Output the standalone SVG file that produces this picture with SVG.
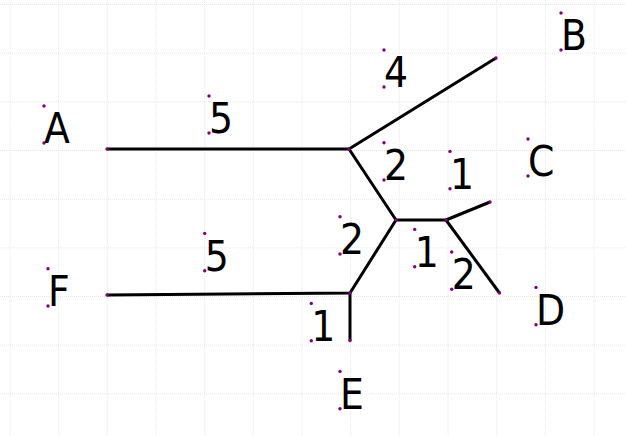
<svg xmlns="http://www.w3.org/2000/svg" width="626" height="436" viewBox="0 0 626 436">
<style>
.grid{stroke:#e6e6e6;stroke-width:1;stroke-dasharray:1 1;fill:none}
.edge{stroke:#000;stroke-width:3;fill:none;stroke-linecap:butt;stroke-linejoin:round}
.lbl{font-family:"DejaVu Sans Condensed","DejaVu Sans",sans-serif;font-stretch:condensed;font-size:42px;fill:#000}
.pt{fill:#800080}
</style>
<rect width="626" height="436" fill="#fff"/>
<g id="grid" class="grid">
<path d="M10 0V436M58.67 0V436M107.33 0V436M156 0V436M204.67 0V436M253.33 0V436M302 0V436M350.67 0V436M399.33 0V436M448 0V436M496.67 0V436M545.33 0V436M594 0V436"/>
<path d="M0 4.5H626M0 53.17H626M0 101.83H626M0 150.5H626M0 199.17H626M0 247.83H626M0 296.5H626M0 345.17H626M0 393.83H626"/>
</g>
<g id="connectors">
<path class="edge" d="M107 149H349L496 58"/>
<path class="edge" d="M349 149L396 220H446L490 202"/>
<path class="edge" d="M446 220L499.5 293"/>
<path class="edge" d="M396 220L350 293L107 295"/>
<path class="edge" d="M350 293V340.5"/>
<g class="pt">
<circle cx="107" cy="149" r="1.7"/><circle cx="349" cy="149" r="1.7"/><circle cx="496" cy="58" r="1.7"/>
<circle cx="396" cy="220" r="1.7"/><circle cx="446" cy="220" r="1.7"/><circle cx="490" cy="202" r="1.7"/>
<circle cx="499.5" cy="293" r="1.7"/><circle cx="350" cy="293" r="1.7"/><circle cx="107" cy="295" r="1.7"/>
<circle cx="350" cy="340.5" r="1.7"/>
</g>
</g>
<g id="node-A"><text class="lbl" x="44" y="143">A</text><circle class="pt" cx="44" cy="106" r="1.7"/><circle class="pt" cx="44" cy="143" r="1.7"/></g>
<g id="node-B"><text class="lbl" x="561" y="50">B</text><circle class="pt" cx="561" cy="13" r="1.7"/><circle class="pt" cx="561" cy="50" r="1.7"/></g>
<g id="node-C"><text class="lbl" x="528" y="176">C</text><circle class="pt" cx="528" cy="139" r="1.7"/><circle class="pt" cx="528" cy="176" r="1.7"/></g>
<g id="node-D"><text class="lbl" x="536" y="324.7">D</text><circle class="pt" cx="536" cy="287.4" r="1.7"/><circle class="pt" cx="536" cy="324.7" r="1.7"/></g>
<g id="node-E"><text class="lbl" x="340" y="408.7">E</text><circle class="pt" cx="340" cy="371.4" r="1.7"/><circle class="pt" cx="340" cy="408.7" r="1.7"/></g>
<g id="node-F"><text class="lbl" x="48" y="306">F</text><circle class="pt" cx="48" cy="268.7" r="1.7"/><circle class="pt" cx="48" cy="306" r="1.7"/></g>
<g id="labels">
<g><text class="lbl" x="209" y="133">5</text><circle class="pt" cx="209" cy="96" r="1.7"/><circle class="pt" cx="209" cy="133" r="1.7"/></g>
<g><text class="lbl" x="384" y="87">4</text><circle class="pt" cx="384" cy="50" r="1.7"/><circle class="pt" cx="384" cy="87" r="1.7"/></g>
<g><text class="lbl" x="384" y="180">2</text><circle class="pt" cx="384" cy="142.7" r="1.7"/><circle class="pt" cx="384" cy="180" r="1.7"/></g>
<g><text class="lbl" x="450" y="188.7">1</text><circle class="pt" cx="450" cy="151.4" r="1.7"/><circle class="pt" cx="450" cy="188.7" r="1.7"/></g>
<g><text class="lbl" x="340" y="254">2</text><circle class="pt" cx="340" cy="216.7" r="1.7"/><circle class="pt" cx="340" cy="254" r="1.7"/></g>
<g><text class="lbl" x="414.7" y="266.7">1</text><circle class="pt" cx="414.7" cy="229.4" r="1.7"/><circle class="pt" cx="414.7" cy="266.7" r="1.7"/></g>
<g><text class="lbl" x="451.7" y="289.3">2</text><circle class="pt" cx="451.7" cy="252" r="1.7"/><circle class="pt" cx="451.7" cy="289.3" r="1.7"/></g>
<g><text class="lbl" x="311.3" y="340.7">1</text><circle class="pt" cx="311.3" cy="303.4" r="1.7"/><circle class="pt" cx="311.3" cy="340.7" r="1.7"/></g>
<g><text class="lbl" x="204.7" y="270.7">5</text><circle class="pt" cx="204.7" cy="233.4" r="1.7"/><circle class="pt" cx="204.7" cy="270.7" r="1.7"/></g>
</g>
</svg>
